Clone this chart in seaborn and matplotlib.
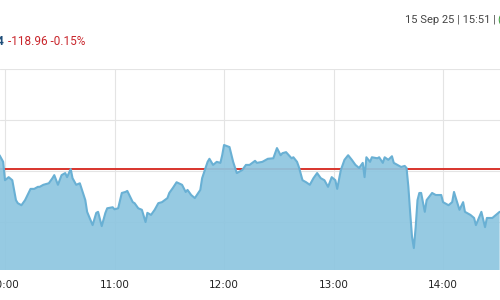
import numpy as np
import pandas as pd
import matplotlib
matplotlib.use("Agg")
import matplotlib.pyplot as plt
import matplotlib.dates as mdates
import seaborn as sns

times = ["09:57","09:59","10:00","10:02","10:04","10:06","10:07","10:09","10:11","10:14",
         "10:16","10:18","10:19","10:21","10:24","10:26","10:27","10:29","10:31","10:33",
         "10:34","10:36","10:37","10:39","10:41","10:44","10:45","10:48","10:50","10:51",
         "10:53","10:55","10:56","10:59","11:00","11:02","11:04","11:06","11:07","11:10",
         "11:11","11:13","11:15","11:17","11:18","11:20","11:22","11:24","11:26","11:29",
         "11:30","11:32","11:34","11:37","11:39","11:40","11:42","11:44","11:47","11:48",
         "11:51","11:52","11:54","11:56","11:58","11:59","12:00","12:03","12:05","12:07",
         "12:10","12:12","12:14","12:17","12:18","12:21","12:24","12:27","12:29","12:31",
         "12:32","12:34","12:37","12:38","12:40","12:41","12:43","12:45","12:47","12:49",
         "12:51","12:53","12:55","12:57","12:59","13:01","13:02","13:04","13:06","13:08",
         "13:10","13:12","13:14","13:16","13:17","13:18","13:20","13:21","13:24","13:25",
         "13:27","13:28","13:30","13:32","13:33","13:35","13:37","13:39","13:40","13:41",
         "13:42","13:43","13:44","13:45","13:46","13:47","13:48","13:49","13:50","13:51",
         "13:54","13:56","13:59","14:00","14:03","14:05","14:06","14:07","14:09","14:11",
         "14:12","14:15","14:17","14:18","14:21","14:23","14:24","14:27","14:29","14:31"]

prices = [81931,81918,81882,81888,81882,81843,81837,81833,81843,81865,
          81865,81869,81869,81873,81876,81886,81892,81873,81892,81896,
          81888,81904,81886,81873,81876,81843,81820,81794,81818,81820,
          81792,81818,81827,81829,81825,81827,81857,81859,81861,81839,
          81837,81827,81824,81800,81818,81814,81824,81837,81839,81847,
          81857,81867,81878,81873,81859,81863,81853,81847,81863,81886,
          81918,81924,81912,81918,81916,81931,81951,81947,81918,81896,
          81902,81912,81912,81920,81916,81918,81924,81925,81945,81931,
          81935,81937,81925,81927,81918,81908,81882,81878,81873,81886,
          81896,81886,81882,81869,81888,81882,81865,81902,81922,81931,
          81922,81912,81906,81916,81888,81927,81918,81927,81925,81927,
          81916,81927,81922,81929,81916,81912,81908,81910,81906,81869,
          81818,81771,81749,81790,81843,81857,81857,81839,81820,81843,
          81857,81853,81853,81839,81833,81839,81859,81847,81824,81839,
          81820,81814,81808,81794,81820,81790,81808,81808,81814,81820]

prev_close = 81904.70
last_digit = "4"
change_text = "-118.96 -0.15%"
stamp_text = "15 Sep 25 | 15:51 |"
tick_labels = ["10:00", "11:00", "12:00", "13:00", "14:00"]

day = "2025-09-15 "
df = pd.DataFrame({"time": pd.to_datetime([day + t for t in times]), "price": prices})

sns.set_style("white")
plt.rcParams['font.family'] = ['DejaVu Sans']

fig = plt.figure(figsize=(5, 3), dpi=100)
ax = fig.add_axes([0, 0.1, 1, 0.67])

x0 = pd.Timestamp(day + "10:00") - pd.Timedelta(minutes=2.74)
x1 = pd.Timestamp(day + "14:00") + pd.Timedelta(minutes=31.2)
ax.set_xlim(x0, x1)
ax.set_ylim(81706, 82100)

# grid
ax.set_yticks([81800, 81900, 82000, 82100])
ax.set_xticks(pd.to_datetime([day + t for t in tick_labels]))
ax.xaxis.set_major_formatter(mdates.DateFormatter("%H:%M"))
ax.grid(True, color="#e4e4e4", linewidth=0.8, zorder=0)
ax.set_axisbelow(True)
ax.tick_params(axis="y", left=False, labelleft=False)
ax.tick_params(axis="x", bottom=False, labelsize=7.5, labelcolor="#222222", pad=4)
for s in ax.spines.values():
    s.set_visible(False)

ax.axhline(prev_close, color="#d8342c", linewidth=1.4, zorder=1)
ax.fill_between(df["time"], df["price"], 81600, color="#8ec6e0", alpha=0.93, linewidth=0, zorder=2)
sns.lineplot(data=df, x="time", y="price", ax=ax, color="#69b0d4", linewidth=1.5, zorder=3)
ax.set_xlabel("")
ax.set_ylabel("")

fig.text(-0.006, 0.863, last_digit, fontsize=8.5, color="#1f4e79", fontweight="bold",
         family=["Roboto", "DejaVu Sans"], va="center", ha="left")
fig.text(0.016, 0.863, change_text, fontsize=8.5, color="#c9252b",
         family=["Roboto", "DejaVu Sans"], va="center", ha="left")
fig.text(0.81, 0.932, stamp_text, fontsize=8, color="#444444",
         family=["Roboto", "DejaVu Sans"], va="center", ha="left")
fig.text(0.995, 0.932, "(", fontsize=8, color="#3a9a3a",
         family=["Roboto", "DejaVu Sans"], va="center", ha="left")

fig.savefig("out.png", dpi=100)
